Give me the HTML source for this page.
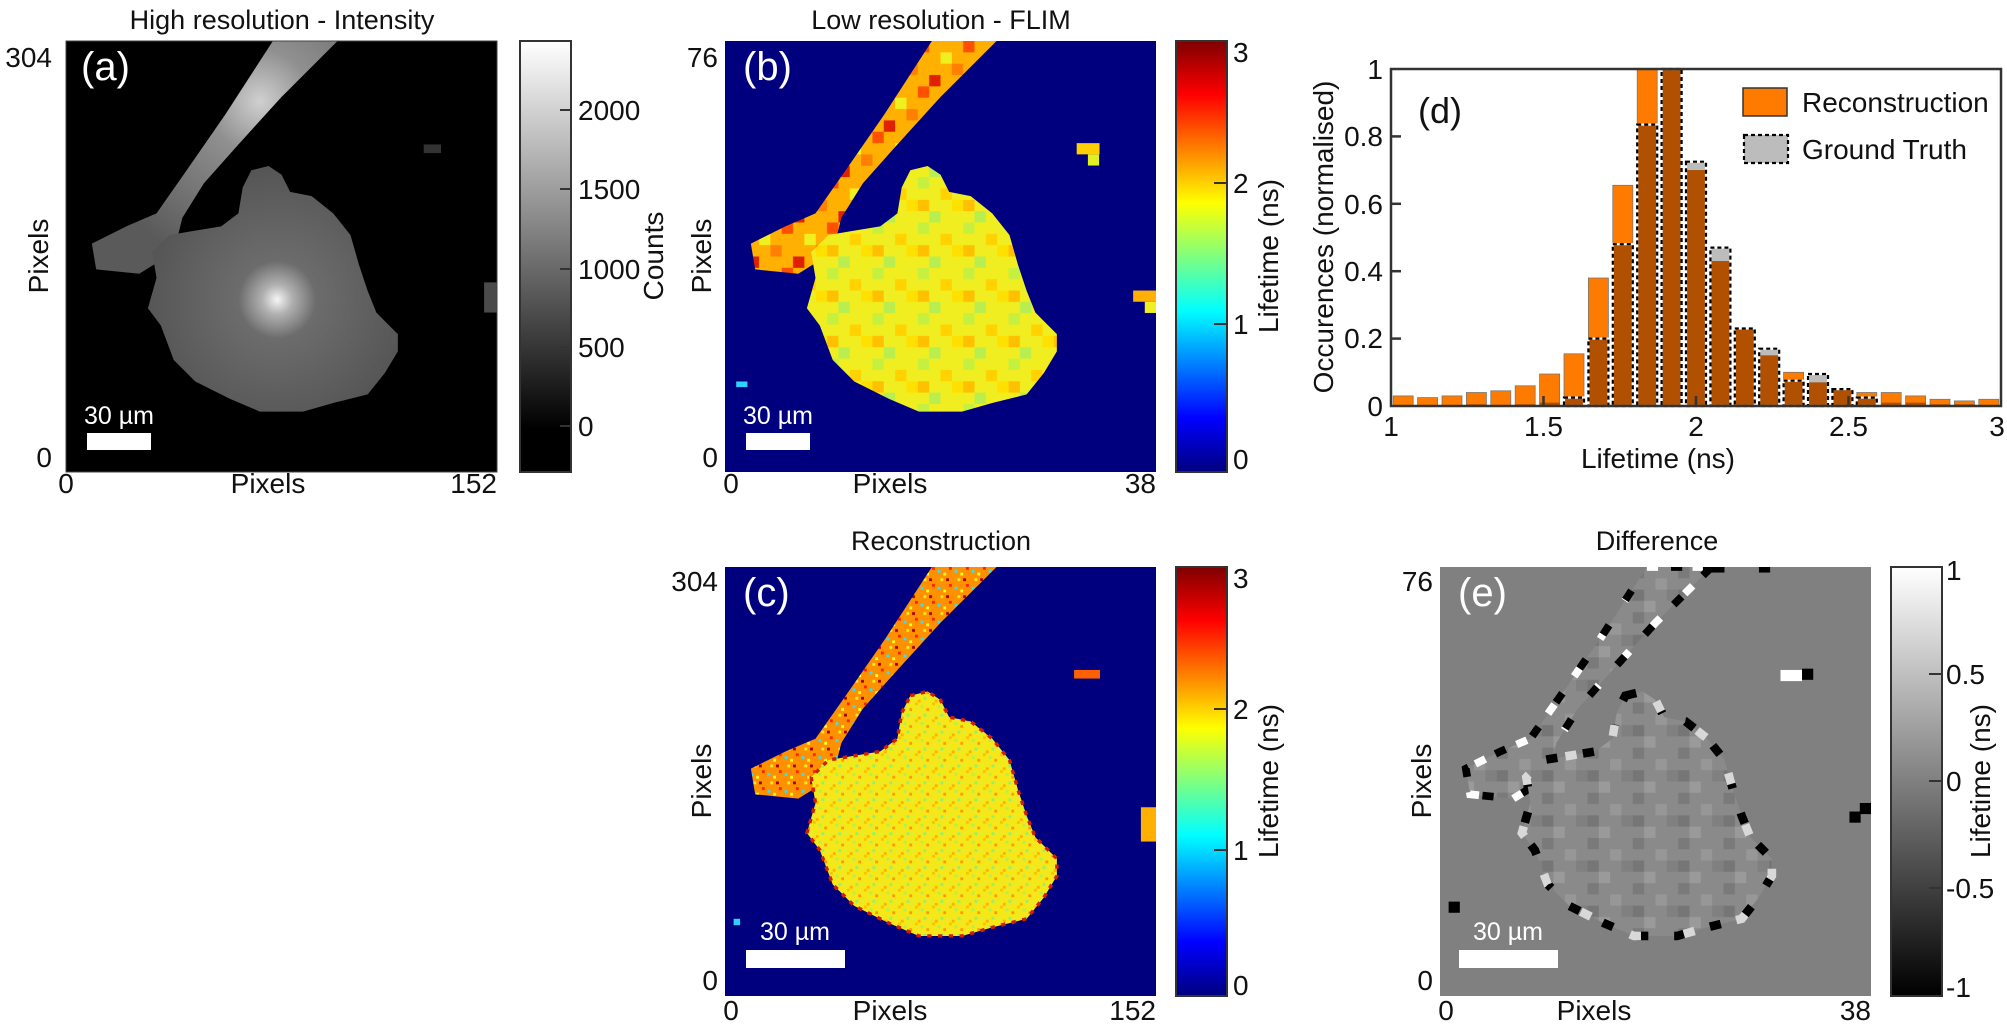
<!DOCTYPE html>
<html><head><meta charset="utf-8"><style>
html,body{margin:0;padding:0;background:#fff;}
svg{display:block;font-family:"Liberation Sans",Arial,sans-serif;}
</style></head><body>
<svg width="2007" height="1029" viewBox="0 0 2007 1029" xmlns="http://www.w3.org/2000/svg">
<defs>
<linearGradient id="gw" x1="0" y1="1" x2="0" y2="0"><stop offset="0" stop-color="#000"/><stop offset="0.1" stop-color="#000"/><stop offset="1" stop-color="#fff"/></linearGradient>
<linearGradient id="gw2" x1="0" y1="1" x2="0" y2="0"><stop offset="0" stop-color="#000"/><stop offset="1" stop-color="#fff"/></linearGradient>
<linearGradient id="jet" x1="0" y1="1" x2="0" y2="0">
<stop offset="0" stop-color="#00007f"/><stop offset="0.125" stop-color="#0000ff"/><stop offset="0.375" stop-color="#00ffff"/><stop offset="0.5" stop-color="#7fff7f"/><stop offset="0.625" stop-color="#ffff00"/><stop offset="0.875" stop-color="#ff0000"/><stop offset="1" stop-color="#7f0000"/></linearGradient>
<radialGradient id="cellA" cx="0.49" cy="0.6" r="0.5" gradientUnits="userSpaceOnUse"><stop offset="0" stop-color="#f5f5f5"/><stop offset="0.07" stop-color="#b0b0b0"/><stop offset="0.18" stop-color="#6c6c6c"/><stop offset="0.6" stop-color="#565656"/><stop offset="1" stop-color="#4a4a4a"/></radialGradient>
<radialGradient id="strA" cx="0.45" cy="0.14" r="0.4" gradientUnits="userSpaceOnUse"><stop offset="0" stop-color="#d0d0d0"/><stop offset="0.3" stop-color="#909090"/><stop offset="1" stop-color="#5a5a5a"/></radialGradient>
<pattern id="pb" patternUnits="userSpaceOnUse" width="0.10526" height="0.10526">
<rect width="0.10526" height="0.10526" fill="#f0ee20"/>
<rect x="0.02632" y="0" width="0.02632" height="0.02632" fill="#c6f040"/>
<rect x="0.07895" y="0.02632" width="0.02632" height="0.02632" fill="#ffd200"/>
<rect x="0" y="0.05263" width="0.02632" height="0.02632" fill="#ffe000"/>
<rect x="0.05263" y="0.07895" width="0.02632" height="0.02632" fill="#b8ee50"/>
<rect x="0.02632" y="0.05263" width="0.02632" height="0.02632" fill="#ffc000"/>
</pattern>
<pattern id="pbs" patternUnits="userSpaceOnUse" width="0.10526" height="0.10526">
<rect width="0.10526" height="0.10526" fill="#ffb000"/>
<rect x="0.02632" y="0" width="0.02632" height="0.02632" fill="#ff5000"/>
<rect x="0.07895" y="0.02632" width="0.02632" height="0.02632" fill="#f0f020"/>
<rect x="0" y="0.05263" width="0.02632" height="0.02632" fill="#ff8000"/>
<rect x="0.05263" y="0.07895" width="0.02632" height="0.02632" fill="#e02000"/>
</pattern>
<pattern id="pc" patternUnits="userSpaceOnUse" width="0.03947" height="0.03947">
<rect width="0.03947" height="0.03947" fill="#f5e81a"/>
<rect x="0.00658" y="0" width="0.00658" height="0.00658" fill="#ffc000"/>
<rect x="0.01974" y="0.00658" width="0.00658" height="0.00658" fill="#b0f050"/>
<rect x="0.03289" y="0.01316" width="0.00658" height="0.00658" fill="#ff9a00"/>
<rect x="0" y="0.02632" width="0.00658" height="0.00658" fill="#e0f030"/>
<rect x="0.01316" y="0.03289" width="0.00658" height="0.00658" fill="#ffb000"/>
<rect x="0.02632" y="0.02632" width="0.00658" height="0.00658" fill="#90f070"/>
</pattern>
<pattern id="pcs" patternUnits="userSpaceOnUse" width="0.03947" height="0.03947">
<rect width="0.03947" height="0.03947" fill="#ff9000"/>
<rect x="0.00658" y="0" width="0.00658" height="0.00658" fill="#ff2000"/>
<rect x="0.01974" y="0.00658" width="0.00658" height="0.00658" fill="#30e0ff"/>
<rect x="0.03289" y="0.01316" width="0.00658" height="0.00658" fill="#ffff20"/>
<rect x="0" y="0.02632" width="0.00658" height="0.00658" fill="#a00000"/>
<rect x="0.02632" y="0.02632" width="0.00658" height="0.00658" fill="#f0f020"/>
</pattern>
<pattern id="pe" patternUnits="userSpaceOnUse" width="0.10526" height="0.10526">
<rect width="0.10526" height="0.10526" fill="#8a8a8a"/>
<rect x="0.02632" y="0" width="0.02632" height="0.02632" fill="#7a7a7a"/>
<rect x="0.07895" y="0.02632" width="0.02632" height="0.02632" fill="#979797"/>
<rect x="0" y="0.05263" width="0.02632" height="0.02632" fill="#808080"/>
<rect x="0.05263" y="0.07895" width="0.02632" height="0.02632" fill="#9a9a9a"/>
<rect x="0.02632" y="0.05263" width="0.02632" height="0.02632" fill="#767676"/>
</pattern>
<path id="cell" d="M0.43,0.30 L0.47,0.29 L0.50,0.31 L0.52,0.35 L0.57,0.36 L0.62,0.40 L0.66,0.45 L0.68,0.52 L0.70,0.58 L0.72,0.63 L0.77,0.68 L0.77,0.72 L0.74,0.77 L0.70,0.82 L0.62,0.84 L0.55,0.86 L0.45,0.86 L0.38,0.83 L0.30,0.79 L0.25,0.74 L0.22,0.66 L0.19,0.62 L0.21,0.55 L0.20,0.49 L0.24,0.45 L0.30,0.44 L0.36,0.43 L0.40,0.40 L0.41,0.34 Z"/>
<path id="streak" d="M0.48,0 L0.63,0 L0.50,0.13 L0.40,0.24 L0.32,0.33 L0.27,0.41 L0.25,0.49 L0.17,0.54 L0.07,0.53 L0.06,0.47 L0.14,0.43 L0.21,0.40 L0.28,0.30 L0.37,0.17 Z"/>
</defs>

<g font-size="27" text-anchor="middle" fill="#111">
<text x="282" y="29">High resolution - Intensity</text>
<text x="941" y="29">Low resolution - FLIM</text>
<text x="941" y="550">Reconstruction</text>
<text x="1657" y="550">Difference</text>
</g>

<!-- Panel a -->
<svg x="66" y="41" width="431" height="431" viewBox="0 0 1 1" preserveAspectRatio="none">
<rect width="1" height="1" fill="#000"/>
<use href="#streak" fill="url(#strA)"/>
<use href="#cell" fill="url(#cellA)"/>
<rect x="0.97" y="0.56" width="0.03" height="0.07" fill="#4a4a4a"/>
<rect x="0.83" y="0.24" width="0.04" height="0.02" fill="#333"/>
</svg>
<rect x="66" y="41" width="431" height="431" fill="none" stroke="#444" stroke-width="1"/>
<text x="81" y="80" font-size="40" fill="#fff">(a)</text>
<rect x="87" y="433" width="64" height="17" fill="#fff"/>
<text x="119" y="424" font-size="25" fill="#fff" text-anchor="middle">30 µm</text>
<rect x="520" y="41" width="51" height="431" fill="url(#gw)" stroke="#333" stroke-width="2"/>
<g stroke="#333" stroke-width="2"><line x1="560" y1="110" x2="571" y2="110"/><line x1="560" y1="189" x2="571" y2="189"/><line x1="560" y1="269" x2="571" y2="269"/><line x1="560" y1="347" x2="571" y2="347"/><line x1="560" y1="426" x2="571" y2="426"/></g>
<g font-size="28" fill="#111">
<text x="578" y="120">2000</text><text x="578" y="199">1500</text><text x="578" y="279">1000</text><text x="578" y="357">500</text><text x="578" y="436">0</text>
</g>
<g font-size="28" fill="#111">
<text x="52" y="67" text-anchor="end">304</text>
<text x="52" y="467" text-anchor="end">0</text>
<text x="66" y="493" text-anchor="middle">0</text>
<text x="268" y="493" text-anchor="middle">Pixels</text>
<text x="497" y="493" text-anchor="end">152</text>
<text transform="rotate(-90 48 256)" x="48" y="256" text-anchor="middle">Pixels</text>
<text transform="rotate(-90 663 256)" x="663" y="256" text-anchor="middle">Counts</text>
</g>

<!-- Panel b -->
<svg x="725" y="41" width="431" height="431" viewBox="0 0 1 1" preserveAspectRatio="none">
<rect width="1" height="1" fill="#00007f"/>
<use href="#streak" fill="url(#pbs)"/>
<use href="#cell" fill="url(#pb)"/>
<rect x="0.816" y="0.237" width="0.053" height="0.026" fill="#ffd000"/>
<rect x="0.842" y="0.263" width="0.026" height="0.026" fill="#e0f020"/>
<rect x="0.947" y="0.579" width="0.053" height="0.026" fill="#ffb000"/>
<rect x="0.974" y="0.605" width="0.026" height="0.026" fill="#f0f020"/>
<rect x="0.026" y="0.79" width="0.026" height="0.013" fill="#30d0ff"/>
</svg>
<text x="743" y="80" font-size="40" fill="#fff">(b)</text>
<rect x="746" y="433" width="64" height="17" fill="#fff"/>
<text x="778" y="424" font-size="25" fill="#fff" text-anchor="middle">30 µm</text>
<rect x="1176" y="41" width="51" height="431" fill="url(#jet)" stroke="#333" stroke-width="2"/>
<g stroke="#333" stroke-width="2"><line x1="1214" y1="183" x2="1227" y2="183"/><line x1="1214" y1="324" x2="1227" y2="324"/></g>
<g font-size="28" fill="#111">
<text x="1233" y="62">3</text><text x="1233" y="193">2</text><text x="1233" y="334">1</text><text x="1233" y="469">0</text>
<text transform="rotate(-90 1278 256)" x="1278" y="256" text-anchor="middle">Lifetime (ns)</text>
<text x="718" y="67" text-anchor="end">76</text>
<text x="718" y="467" text-anchor="end">0</text>
<text x="731" y="493" text-anchor="middle">0</text>
<text x="890" y="493" text-anchor="middle">Pixels</text>
<text x="1156" y="493" text-anchor="end">38</text>
<text transform="rotate(-90 711 256)" x="711" y="256" text-anchor="middle">Pixels</text>
</g>

<!-- Panel c -->
<svg x="725" y="567" width="431" height="429" viewBox="0 0 1 1" preserveAspectRatio="none">
<rect width="1" height="1" fill="#00007f"/>
<use href="#streak" fill="url(#pcs)"/>
<use href="#cell" fill="url(#pc)" stroke="#d02000" stroke-width="0.008" stroke-dasharray="0.01 0.015"/>
<rect x="0.81" y="0.24" width="0.06" height="0.02" fill="#ff6000"/>
<rect x="0.965" y="0.56" width="0.035" height="0.08" fill="#ffb000"/>
<rect x="0.02" y="0.82" width="0.015" height="0.015" fill="#30d0ff"/>
</svg>
<text x="743" y="606" font-size="40" fill="#fff">(c)</text>
<rect x="746" y="950" width="99" height="18" fill="#fff"/>
<text x="795" y="940" font-size="25" fill="#fff" text-anchor="middle">30 µm</text>
<rect x="1176" y="567" width="51" height="429" fill="url(#jet)" stroke="#333" stroke-width="2"/>
<g stroke="#333" stroke-width="2"><line x1="1214" y1="709" x2="1227" y2="709"/><line x1="1214" y1="850" x2="1227" y2="850"/></g>
<g font-size="28" fill="#111">
<text x="1233" y="588">3</text><text x="1233" y="719">2</text><text x="1233" y="860">1</text><text x="1233" y="995">0</text>
<text transform="rotate(-90 1278 781)" x="1278" y="781" text-anchor="middle">Lifetime (ns)</text>
<text x="718" y="591" text-anchor="end">304</text>
<text x="718" y="990" text-anchor="end">0</text>
<text x="731" y="1020" text-anchor="middle">0</text>
<text x="890" y="1020" text-anchor="middle">Pixels</text>
<text x="1156" y="1020" text-anchor="end">152</text>
<text transform="rotate(-90 711 781)" x="711" y="781" text-anchor="middle">Pixels</text>
</g>

<!-- Panel e -->
<svg x="1440" y="567" width="431" height="429" viewBox="0 0 1 1" preserveAspectRatio="none">
<rect width="1" height="1" fill="#808080"/>
<use href="#streak" fill="url(#pe)" stroke="#fff" stroke-width="0.018" stroke-dasharray="0.026 0.08"/>
<use href="#streak" fill="none" stroke="#000" stroke-width="0.018" stroke-dasharray="0.026 0.07" stroke-dashoffset="0.04"/>
<use href="#cell" fill="url(#pe)" stroke="#000" stroke-width="0.02" stroke-dasharray="0.026 0.06"/>
<use href="#cell" fill="none" stroke="#d8d8d8" stroke-width="0.02" stroke-dasharray="0.026 0.1" stroke-dashoffset="0.045"/>
<rect x="0.61" y="0" width="0.05" height="0.013" fill="#000"/>
<rect x="0.74" y="0" width="0.026" height="0.013" fill="#000"/>
<rect x="0.79" y="0.24" width="0.05" height="0.026" fill="#fff"/>
<rect x="0.84" y="0.237" width="0.026" height="0.026" fill="#000"/>
<rect x="0.95" y="0.57" width="0.026" height="0.026" fill="#000"/>
<rect x="0.974" y="0.55" width="0.026" height="0.026" fill="#000"/>
<rect x="0.02" y="0.78" width="0.026" height="0.026" fill="#000"/>
</svg>
<text x="1458" y="606" font-size="40" fill="#fff">(e)</text>
<rect x="1459" y="950" width="99" height="18" fill="#fff"/>
<text x="1508" y="940" font-size="25" fill="#fff" text-anchor="middle">30 µm</text>
<rect x="1891" y="567" width="51" height="429" fill="url(#gw2)" stroke="#333" stroke-width="2"/>
<g stroke="#333" stroke-width="2"><line x1="1929" y1="674" x2="1942" y2="674"/><line x1="1929" y1="781" x2="1942" y2="781"/><line x1="1929" y1="888" x2="1942" y2="888"/></g>
<g font-size="28" fill="#111">
<text x="1946" y="580">1</text><text x="1946" y="684">0.5</text><text x="1946" y="791">0</text><text x="1946" y="898">-0.5</text><text x="1946" y="997">-1</text>
<text transform="rotate(-90 1990 781)" x="1990" y="781" text-anchor="middle">Lifetime (ns)</text>
<text x="1433" y="591" text-anchor="end">76</text>
<text x="1433" y="990" text-anchor="end">0</text>
<text x="1446" y="1020" text-anchor="middle">0</text>
<text x="1594" y="1020" text-anchor="middle">Pixels</text>
<text x="1871" y="1020" text-anchor="end">38</text>
<text transform="rotate(-90 1431 781)" x="1431" y="781" text-anchor="middle">Pixels</text>
</g>

<!-- Panel d histogram -->
<g stroke="#777" stroke-width="0.8" fill="#ff7b00">
<rect x="1393.2" y="395.9" width="20" height="10.1"/>
<rect x="1417.6" y="397.6" width="20" height="8.4"/>
<rect x="1442.0" y="395.9" width="20" height="10.1"/>
<rect x="1466.4" y="392.5" width="20" height="13.5"/>
<rect x="1490.8" y="390.8" width="20" height="15.2"/>
<rect x="1515.2" y="385.8" width="20" height="20.2"/>
<rect x="1539.6" y="374" width="20" height="32"/>
<rect x="1564.0" y="353.8" width="20" height="52.2"/>
<rect x="1588.4" y="278" width="20" height="128"/>
<rect x="1612.8" y="185.3" width="20" height="220.7"/>
<rect x="1637.2" y="69" width="20" height="337"/>
<rect x="1661.6" y="69" width="20" height="337"/>
<rect x="1686.0" y="170.1" width="20" height="235.9"/>
<rect x="1710.4" y="261.1" width="20" height="144.9"/>
<rect x="1734.8" y="328.5" width="20" height="77.5"/>
<rect x="1759.2" y="355.4" width="20" height="50.6"/>
<rect x="1783.6" y="372.3" width="20" height="33.7"/>
<rect x="1808.0" y="382.4" width="20" height="23.6"/>
<rect x="1832.4" y="389.1" width="20" height="16.9"/>
<rect x="1856.8" y="392.5" width="20" height="13.5"/>
<rect x="1881.2" y="392.5" width="20" height="13.5"/>
<rect x="1905.6" y="395.9" width="20" height="10.1"/>
<rect x="1930.0" y="399.3" width="20" height="6.7"/>
<rect x="1954.4" y="400.9" width="20" height="5.1"/>
<rect x="1978.8" y="399.3" width="20" height="6.7"/>
</g>
<g fill="#bcbcbc">
<rect x="1686.0" y="161.7" width="20" height="8.4"/>
<rect x="1710.4" y="247.6" width="20" height="13.5"/>
<rect x="1759.2" y="348.7" width="20" height="6.7"/>
<rect x="1808.0" y="374" width="20" height="8.4"/>
</g>
<g fill="#b05000">
<rect x="1466.4" y="404.3" width="20" height="1.7"/>
<rect x="1515.2" y="404.3" width="20" height="1.7"/>
<rect x="1539.6" y="402.6" width="20" height="3.4"/>
<rect x="1564.0" y="397.6" width="20" height="8.4"/>
<rect x="1588.4" y="338.6" width="20" height="67.4"/>
<rect x="1612.8" y="244.2" width="20" height="161.8"/>
<rect x="1637.2" y="124.6" width="20" height="281.4"/>
<rect x="1661.6" y="69" width="20" height="337"/>
<rect x="1686.0" y="170.1" width="20" height="235.9"/>
<rect x="1710.4" y="261.1" width="20" height="144.9"/>
<rect x="1734.8" y="328.5" width="20" height="77.5"/>
<rect x="1759.2" y="355.4" width="20" height="50.6"/>
<rect x="1783.6" y="380.7" width="20" height="25.3"/>
<rect x="1808.0" y="382.4" width="20" height="23.6"/>
<rect x="1832.4" y="389.1" width="20" height="16.9"/>
<rect x="1856.8" y="397.6" width="20" height="8.4"/>
<rect x="1881.2" y="402.6" width="20" height="3.4"/>
<rect x="1905.6" y="402.6" width="20" height="3.4"/>
<rect x="1930.0" y="404.3" width="20" height="1.7"/>
<rect x="1954.4" y="404.3" width="20" height="1.7"/>
</g>
<g fill="none" stroke-width="2.2">
<g stroke="#fff">
<rect x="1564.0" y="397.6" width="20" height="8.4"/>
<rect x="1588.4" y="338.6" width="20" height="67.4"/>
<rect x="1612.8" y="244.2" width="20" height="161.8"/>
<rect x="1637.2" y="124.6" width="20" height="281.4"/>
<rect x="1661.6" y="69" width="20" height="337"/>
<rect x="1686.0" y="161.7" width="20" height="244.3"/>
<rect x="1710.4" y="247.6" width="20" height="158.4"/>
<rect x="1734.8" y="328.5" width="20" height="77.5"/>
<rect x="1759.2" y="348.7" width="20" height="57.3"/>
<rect x="1783.6" y="380.7" width="20" height="25.3"/>
<rect x="1808.0" y="374" width="20" height="32"/>
<rect x="1832.4" y="389.1" width="20" height="16.9"/>
<rect x="1856.8" y="397.6" width="20" height="8.4"/>
</g>
<g stroke="#000" stroke-dasharray="4 3">
<rect x="1564.0" y="397.6" width="20" height="8.4"/>
<rect x="1588.4" y="338.6" width="20" height="67.4"/>
<rect x="1612.8" y="244.2" width="20" height="161.8"/>
<rect x="1637.2" y="124.6" width="20" height="281.4"/>
<rect x="1661.6" y="69" width="20" height="337"/>
<rect x="1686.0" y="161.7" width="20" height="244.3"/>
<rect x="1710.4" y="247.6" width="20" height="158.4"/>
<rect x="1734.8" y="328.5" width="20" height="77.5"/>
<rect x="1759.2" y="348.7" width="20" height="57.3"/>
<rect x="1783.6" y="380.7" width="20" height="25.3"/>
<rect x="1808.0" y="374" width="20" height="32"/>
<rect x="1832.4" y="389.1" width="20" height="16.9"/>
<rect x="1856.8" y="397.6" width="20" height="8.4"/>
</g>
</g>
<rect x="1391" y="69" width="610" height="337" fill="none" stroke="#333" stroke-width="2.5"/>
<g stroke="#333" stroke-width="2.5">
<line x1="1391" y1="338.6" x2="1401" y2="338.6"/><line x1="1391" y1="271.2" x2="1401" y2="271.2"/><line x1="1391" y1="203.8" x2="1401" y2="203.8"/><line x1="1391" y1="136.4" x2="1401" y2="136.4"/>
<line x1="1543.5" y1="406" x2="1543.5" y2="396"/><line x1="1696" y1="406" x2="1696" y2="396"/><line x1="1848.5" y1="406" x2="1848.5" y2="396"/>
</g>
<text x="1418" y="123" font-size="36" fill="#111">(d)</text>
<rect x="1743" y="88" width="44" height="28" fill="#ff7b00" stroke="#333" stroke-width="1.5"/>
<rect x="1744" y="135" width="44" height="28" fill="#bcbcbc" stroke="#000" stroke-width="2.2" stroke-dasharray="4 3"/>
<g font-size="28" fill="#111">
<text x="1802" y="112">Reconstruction</text>
<text x="1802" y="159">Ground Truth</text>
<g text-anchor="end">
<text x="1383" y="416">0</text><text x="1383" y="348">0.2</text><text x="1383" y="281">0.4</text><text x="1383" y="214">0.6</text><text x="1383" y="146">0.8</text><text x="1383" y="79">1</text>
</g>
<g text-anchor="middle">
<text x="1391" y="436">1</text><text x="1543.5" y="436">1.5</text><text x="1696" y="436">2</text><text x="1848.5" y="436">2.5</text><text x="1997" y="436">3</text>
<text x="1658" y="468">Lifetime (ns)</text>
<text transform="rotate(-90 1333 237)" x="1333" y="237">Occurences (normalised)</text>
</g>
</g>
</svg>
</body></html>
